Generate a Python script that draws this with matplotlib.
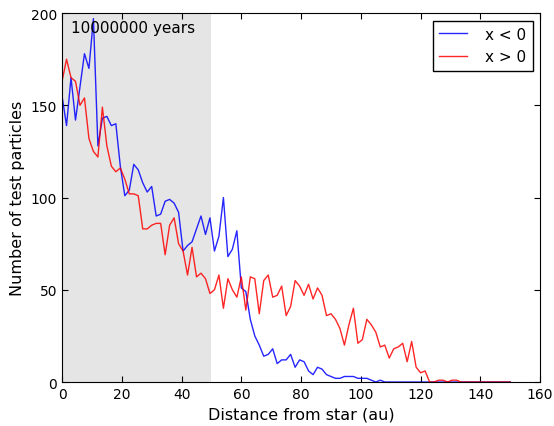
import numpy as np
import matplotlib
matplotlib.use("Agg")
import matplotlib.pyplot as plt

# radial bins (au)
dist = np.arange(0, 151.5, 1.5)

# counts for particles with x < 0
neg_x = [155, 139, 165, 142, 160, 178, 170, 197, 128, 143,
         144, 139, 140, 117, 101, 104, 118, 115, 108, 103,
         106, 90, 91, 98, 99, 97, 92, 71, 74, 76,
         83, 90, 80, 89, 71, 79, 100, 68, 72, 82,
         51, 49, 34, 25, 20, 14, 15, 18, 10, 12,
         12, 15, 8, 12, 11, 6, 4, 8, 7, 4,
         3, 2, 2, 3, 3, 3, 2, 2, 2, 1,
         0, 1, 0, 0, 0, 0, 0, 0, 0, 0,
         0, 0, 0, 0, 0, 0, 0, 0, 0, 0,
         0, 0, 0, 0, 0, 0, 0, 0, 0, 0, 0]

# counts for particles with x > 0
pos_x = [163, 175, 165, 163, 150, 154, 132, 125, 122, 149,
         128, 117, 114, 116, 110, 102, 102, 101, 83, 83,
         85, 86, 86, 69, 85, 89, 75, 71, 58, 73,
         57, 59, 56, 48, 50, 58, 40, 56, 50, 46,
         57, 39, 57, 56, 37, 55, 58, 46, 47, 52,
         36, 41, 55, 52, 47, 53, 45, 51, 47, 36,
         37, 34, 29, 20, 31, 40, 21, 23, 34, 31,
         27, 19, 20, 13, 18, 19, 21, 11, 22, 8,
         5, 6, 0, 0, 1, 1, 0, 1, 1, 0,
         0, 0, 0, 0, 0, 0, 0, 0, 0, 0, 0]

fig = plt.figure(figsize=(5.54, 4.27), dpi=100)
ax = fig.add_axes([0.112, 0.103, 0.863, 0.864])

ax.axvspan(0, 50, color='#e5e5e5', zorder=0, lw=0)
ax.plot(dist, neg_x, color='b', lw=1, alpha=0.85, label='x < 0')
ax.plot(dist, pos_x, color='r', lw=1, alpha=0.85, label='x > 0')

ax.set_xlim(0, 160)
ax.set_ylim(0, 200)
ax.set_xticks(np.arange(0, 161, 20))
ax.set_yticks(np.arange(0, 201, 50))
ax.tick_params(direction='in', top=True, right=True, labelsize=10, length=4)
ax.set_xlabel('Distance from star (au)', fontsize=11.5)
ax.set_ylabel('Number of test particles', fontsize=11.5)
ax.text(0.018, 0.98, '10000000 years', transform=ax.transAxes,
        ha='left', va='top', fontsize=11)

leg = ax.legend(loc='upper right', fontsize=11, fancybox=False,
                framealpha=1, edgecolor='k', handlelength=1.8,
                handletextpad=1.2)
leg.get_frame().set_linewidth(1)

plt.savefig('out.png', dpi=100)
